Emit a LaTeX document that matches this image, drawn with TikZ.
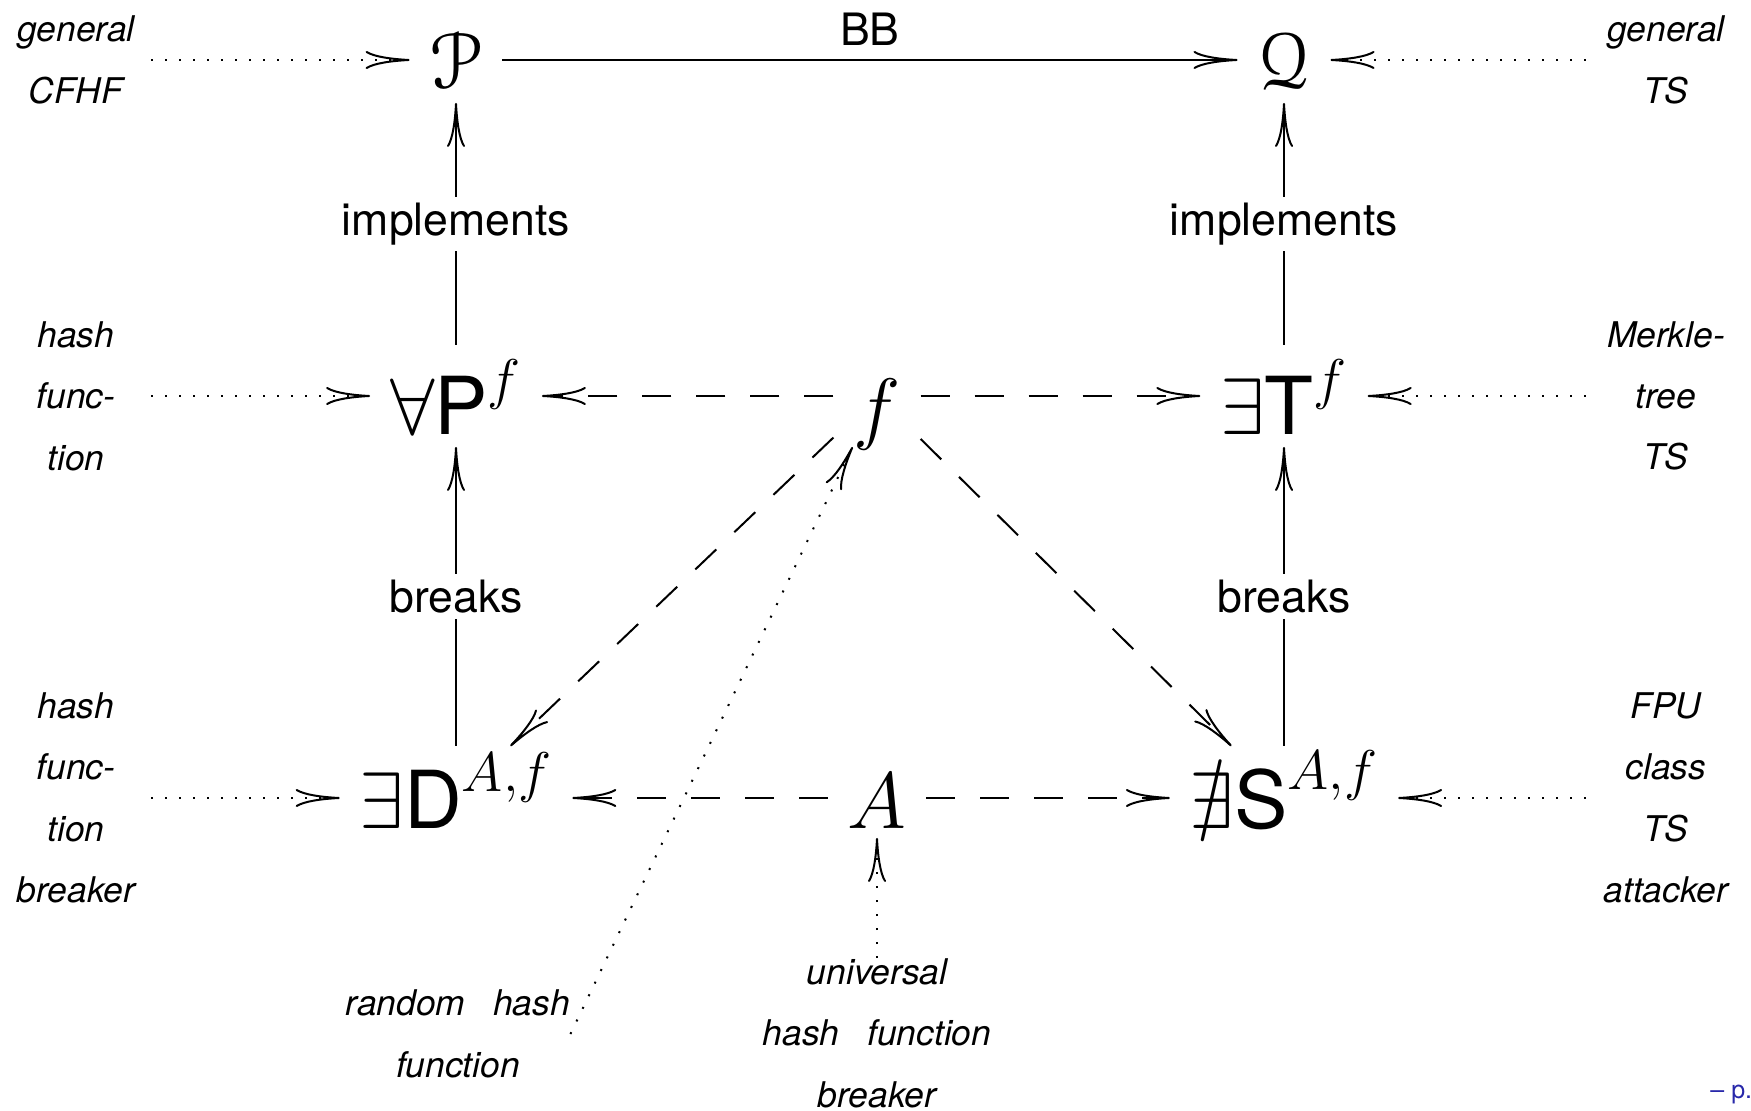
\documentclass[tikz,border=0pt]{standalone}
\usepackage{amssymb}
\DeclareFontFamily{U}{eus}{\skewchar\font'60}
\DeclareFontShape{U}{eus}{m}{n}{<-6> eusm5 <6-8> eusm7 <8-> eusm10}{}
\usepackage{eucal}
\usepackage{fontspec}
\setmainfont{TeX Gyre Heros}
\DeclareFontShape{OML}{cmm}{m}{it}{<-6> cmmi5 <6-7> cmmi6 <7-8> cmmi7 <8-9> cmmi8 <9-10> cmmi9 <10-12> cmmi10 <12-> cmmi12}{}
\DeclareFontShape{OMS}{cmsy}{m}{n}{<-6> cmsy5 <6-7> cmsy6 <7-8> cmsy7 <8-9> cmsy8 <9-10> cmsy9 <10-> cmsy10}{}
\usetikzlibrary{arrows.meta}
\definecolor{pblue}{RGB}{40,40,170}
\tikzset{
  sym/.style={font=\fontsize{40}{48}\selectfont, inner xsep=10pt, inner ysep=0pt, outer sep=0pt, anchor=base},
  toprow/.style={text height=36pt, text depth=7pt},
  midrow/.style={text height=45pt, text depth=6pt},
  botrow/.style={text height=41pt, text depth=11pt},
  note/.style={font=\fontsize{17.7}{30.7}\selectfont\itshape, align=center, inner sep=0pt},
  lbl/.style={font=\fontsize{22.3}{26}\selectfont, fill=white, inner sep=3pt},
  tip/.style={-{Computer Modern Rightarrow[length=22pt,width=9pt]}},
  solidarr/.style={tip, line width=1pt},
  dasharr/.style={tip, line width=1pt, dash pattern=on 14.5pt off 12.5pt},
  dotarr/.style={tip, line width=1pt, dash pattern=on 1pt off 6pt},
}
\begin{document}
\begin{tikzpicture}[x=0.5pt,y=-0.5pt]
\fill[white] (0,0) rectangle (1751,1111);
\useasboundingbox (0,0) rectangle (1751,1111);
% main symbols
\node[sym,toprow] (P) at (456,89) {$\mathcal{P}$};
\node[sym,toprow] (Q) at (1284,89) {$\mathcal{Q}$};
\node[sym,midrow] (aP) at (456,435) {$\forall\mbox{P}^{f}$};
\node[sym,midrow] (f) at (877,435) {$f$};
\node[sym,midrow] (eT) at (1284,435) {$\exists\mbox{T}^{f}$};
\node[sym,botrow] (eD) at (456,828) {$\exists\mbox{D}^{A,f}$};
\node[sym,text height=35pt,text depth=5pt] (A) at (877,828) {$A$};
\node[sym,botrow] (nS) at (1284,828) {$\nexists\mbox{S}^{A,f}$};
% notes
\node[note,text width=75pt] (nL1) at (76,60) {general\\CFHF};
\node[note,text width=75pt] (nL2) at (76,396) {hash\\func-\\tion};
\node[note,text width=75pt] (nL3) at (76,798) {hash\\func-\\tion\\breaker};
\node[note,text width=80pt] (nR1) at (1666,60) {general\\TS};
\node[note,text width=80pt] (nR2) at (1666,396) {Merkle-\\tree\\TS};
\node[note,text width=80pt] (nR3) at (1666,798) {FPU\\class\\TS\\attacker};
\node[note] (nRH) at (458,1034) {random\hspace{9pt} hash\\function};
\node[note] (nU) at (877,1033) {universal\\hash\hspace{9pt} function\\breaker};
\node[font=\fontsize{12.5}{15}\selectfont, text=pblue, anchor=base west, inner sep=0pt] (pg) at (1710,1098) {– p.};
% connectors
\draw[dotarr] (nL1) -- (P);
\draw[solidarr] (P) -- node[midway, above=6.5pt, inner sep=0pt, font=\fontsize{22.3}{26}\selectfont] {BB} (Q);
\draw[dotarr] (nR1) -- (Q);
\draw[solidarr] (aP) -- node[lbl] {implements} (P);
\draw[solidarr] (eT) -- node[lbl] {implements} (Q);
\draw[dotarr] (nL2) -- (aP);
\draw[dasharr] (f) -- (aP);
\draw[dasharr] (f) -- (eT);
\draw[dotarr] (nR2) -- (eT);
\draw[solidarr] (eD) -- node[lbl] {breaks} (aP);
\draw[solidarr] (nS) -- node[lbl] {breaks} (eT);
\draw[dotarr] (nL3) -- (eD);
\draw[dasharr] (A) -- (eD);
\draw[dasharr] (A) -- (nS);
\draw[dotarr] (nR3) -- (nS);
\draw[dasharr] (f) -- (eD);
\draw[dasharr] (f) -- (nS);
\draw[dotarr] (nRH.east) -- (f);
\draw[dotarr] (nU) -- (A);
\end{tikzpicture}
\end{document}
